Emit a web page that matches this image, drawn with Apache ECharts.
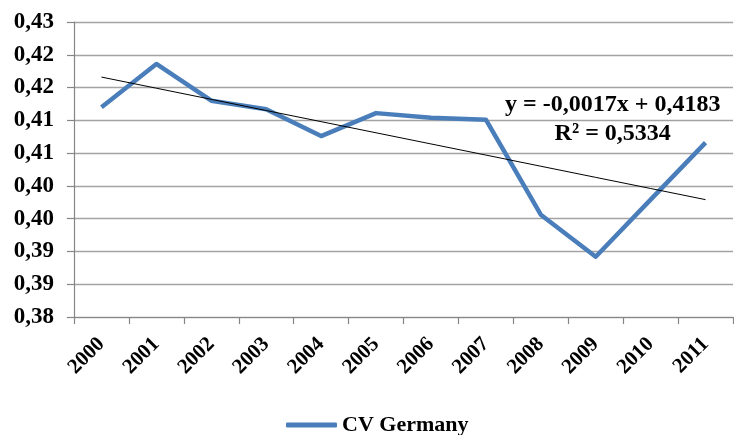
<!DOCTYPE html>
<html>
<head>
<meta charset="utf-8">
<style>
  html, body { margin: 0; padding: 0; background: #ffffff; }
  #chart { width: 734px; height: 435px; }
</style>
<script src="https://cdn.jsdelivr.net/npm/echarts@6/dist/echarts.min.js"></script>
</head>
<body>
<div id="chart"></div>
<script>
// Years on the category axis
const years = ['2000', '2001', '2002', '2003', '2004', '2005', '2006', '2007', '2008', '2009', '2010', '2011'];

// Coefficient of variation, Germany
const cvGermany = [0.4120, 0.4186, 0.4130, 0.4117, 0.4076, 0.4111, 0.4104, 0.4101, 0.3956, 0.3892, 0.3979, 0.4066];

// Linear trend fitted on the year index (1..12)
const trendSlope = -0.0017;
const trendIntercept = 0.4183;
const trendR2 = 0.5334;

// Value axis range and its tick labels (two-decimal rounding)
const yMin = 0.38;
const yMax = 0.425;
const yStep = 0.005;
const yTickLabels = ['0,38', '0,39', '0,39', '0,40', '0,40', '0,41', '0,41', '0,42', '0,42', '0,43'];

const trendValues = years.map((_, i) => trendSlope * (i + 1) + trendIntercept);
const fmt = (v, d) => v.toFixed(d).replace('.', ',');
const trendText = 'y = ' + fmt(trendSlope, 4) + 'x + ' + fmt(trendIntercept, 4) + '\nR² = ' + fmt(trendR2, 4);

const FONT = '"Liberation Serif", "Times New Roman", serif';

const chart = echarts.init(document.getElementById('chart'), null, { renderer: 'canvas' });

chart.setOption({
  animation: false,
  backgroundColor: '#ffffff',
  grid: { left: 74, right: 1, top: 22, bottom: 118, containLabel: false },
  legend: {
    data: ['CV Germany'],
    left: 281,
    top: 409,
    icon: 'roundRect',
    itemWidth: 51,
    itemHeight: 5,
    itemGap: 5,
    textStyle: { fontFamily: FONT, fontWeight: 'bold', fontSize: 22, color: '#000' }
  },
  xAxis: {
    type: 'category',
    data: years,
    boundaryGap: true,
    axisLine: { show: true, lineStyle: { color: '#868686', width: 1.2 } },
    axisTick: { show: true, inside: false, length: 7, alignWithLabel: false, lineStyle: { color: '#868686', width: 1.2 } },
    axisLabel: {
      rotate: 45,
      margin: 24,
      fontFamily: FONT,
      fontWeight: 'bold',
      fontSize: 21,
      color: '#000'
    }
  },
  yAxis: {
    type: 'value',
    min: yMin,
    max: yMax,
    interval: yStep,
    axisLine: { show: true, lineStyle: { color: '#868686', width: 1.2 } },
    axisTick: { show: true, inside: false, length: 7, lineStyle: { color: '#868686', width: 1.2 } },
    splitLine: { show: true, lineStyle: { color: '#a3a3a3', width: 1.3 } },
    axisLabel: {
      margin: 20,
      fontFamily: FONT,
      fontWeight: 'bold',
      fontSize: 23,
      color: '#000',
      formatter: (v) => yTickLabels[Math.round((v - yMin) / yStep)]
    }
  },
  series: [
    {
      name: 'CV Germany',
      type: 'line',
      data: cvGermany,
      symbol: 'none',
      lineStyle: { color: '#4a7ebb', width: 4.5, join: 'round' },
      itemStyle: { color: '#4a7ebb' },
      z: 3
    },
    {
      name: 'Trend',
      type: 'line',
      data: trendValues,
      symbol: 'none',
      lineStyle: { color: '#000000', width: 1 },
      itemStyle: { color: '#000000' },
      z: 4,
      markPoint: {
        symbol: 'circle',
        symbolSize: 0,
        silent: true,
        data: [{
          coord: [years[9], trendValues[9]],
          label: {
            show: true,
            formatter: trendText,
            offset: [17, -58],
            fontFamily: FONT,
            fontWeight: 'bold',
            fontSize: 24,
            lineHeight: 29,
            color: '#000',
            align: 'center'
          }
        }]
      }
    }
  ]
});
</script>
</body>
</html>
